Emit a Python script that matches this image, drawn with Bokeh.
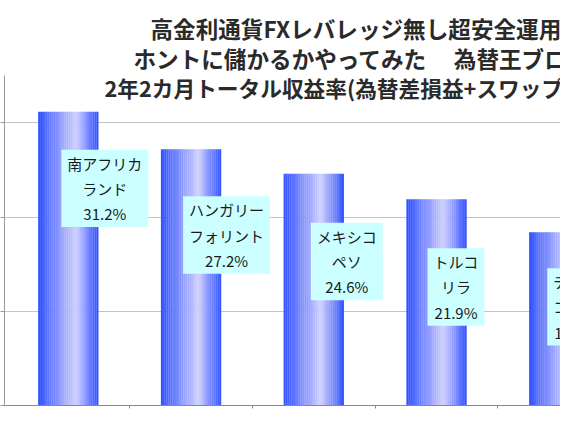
import numpy as np
from bokeh.plotting import figure
from bokeh.models import Range1d, FixedTicker, Label
from bokeh.embed import file_html
from bokeh.resources import INLINE

# chart data
title_lines = [
    "高金利通貨FXレバレッジ無し超安全運用",
    "ホントに儲かるかやってみた　  為替王ブログ",
    "2年2カ月トータル収益率(為替差損益+スワップ金利)",
]
currencies = ["南アフリカ\nランド", "ハンガリー\nフォリント", "メキシコ\nペソ", "トルコ\nリラ", "チェコ\nコルナ"]
returns = [31.2, 27.2, 24.6, 21.9, 18.4]
y_ticks = [0, 10, 20, 30]
y_max = 35

FONT = "Noto Sans CJK JP"
DARK = np.array([48, 80, 255])
LIGHT = np.array([208, 208, 255])

# the frame reaches the top of the canvas so the title can sit inside it;
# the axis itself only runs from 0 to 35
y_top = 43.0

p = figure(width=560, height=414, output_backend="svg", toolbar_location=None,
           x_range=Range1d(-0.52, 4.01), y_range=Range1d(0, y_top),
           min_border_left=3, min_border_right=0, min_border_top=0, min_border_bottom=9)
p.outline_line_color = None
p.xgrid.visible = False
p.ygrid.ticker = FixedTicker(ticks=y_ticks[1:])
p.ygrid.grid_line_color = "#c4c4c4"

# bars: horizontal gradient made from thin strips
cats = np.arange(len(returns))
bar_w = 0.49
n_strips = 32
xs, tops, cols = [], [], []
for k in range(n_strips):
    t = (k + 0.5) / n_strips
    mix = t / 0.62 if t < 0.62 else (1 - t) / 0.38
    c = DARK + (LIGHT - DARK) * mix
    col = "#%02x%02x%02x" % tuple(int(round(v)) for v in c)
    for i, v in enumerate(returns):
        xs.append(cats[i] - bar_w / 2 + t * bar_w)
        tops.append(v)
        cols.append(col)
p.vbar(x=xs, top=tops, width=bar_w / n_strips * 1.1, fill_color=cols, line_color=None)

# axes (tick labels are off-canvas in the original)
p.yaxis.ticker = FixedTicker(ticks=y_ticks)
p.yaxis.bounds = (0, y_max)
p.yaxis.major_label_overrides = {t: "" for t in y_ticks}
p.yaxis.major_label_standoff = 0
p.yaxis.major_tick_out = 4
p.yaxis.major_tick_in = 0
p.yaxis.minor_tick_line_color = None
p.yaxis.axis_line_color = "#999999"
p.yaxis.major_tick_line_color = "#999999"

x_ticks = [c + 0.5 for c in cats]
p.xaxis.ticker = FixedTicker(ticks=x_ticks)
p.xaxis.major_label_overrides = {t: "" for t in x_ticks}
p.xaxis.major_label_standoff = 0
p.xaxis.major_tick_out = 3
p.xaxis.major_tick_in = 0
p.xaxis.minor_tick_line_color = None
p.xaxis.axis_line_color = "#888888"
p.xaxis.major_tick_line_color = "#888888"

# data labels in cyan boxes
box_dx = [-7, -8, -3, -9, -12]
box_dy = [-38, -47, -49, -49, -36]
for i, (name, v) in enumerate(zip(currencies, returns)):
    p.add_layout(Label(x=cats[i], y=v, x_offset=box_dx[i], y_offset=box_dy[i],
                       text=f"{name}\n{v:.1f}%", anchor="top_left", text_align="center",
                       text_font=FONT, text_font_size="15px", text_color="#1a1a1a",
                       text_line_height=1.2, padding=(6, 3),
                       background_fill_color="#ccffff", border_line_color=None))

# title, three lines (the original is cropped on the right)
title_x = [146, 129, 100]
title_y = [377, 347, 318]
title_size = ["22.6px", "22.6px", "21.7px"]
for txt, tx, ty, fs in zip(title_lines, title_x, title_y, title_size):
    p.add_layout(Label(x=tx, y=ty, x_units="screen", y_units="screen", text=txt,
                       text_font=FONT, text_font_size=fs, text_font_style="bold",
                       text_color="#2a2a2a", text_baseline="middle", text_align="left"))

open("out.html", "w").write(file_html(p, INLINE))
